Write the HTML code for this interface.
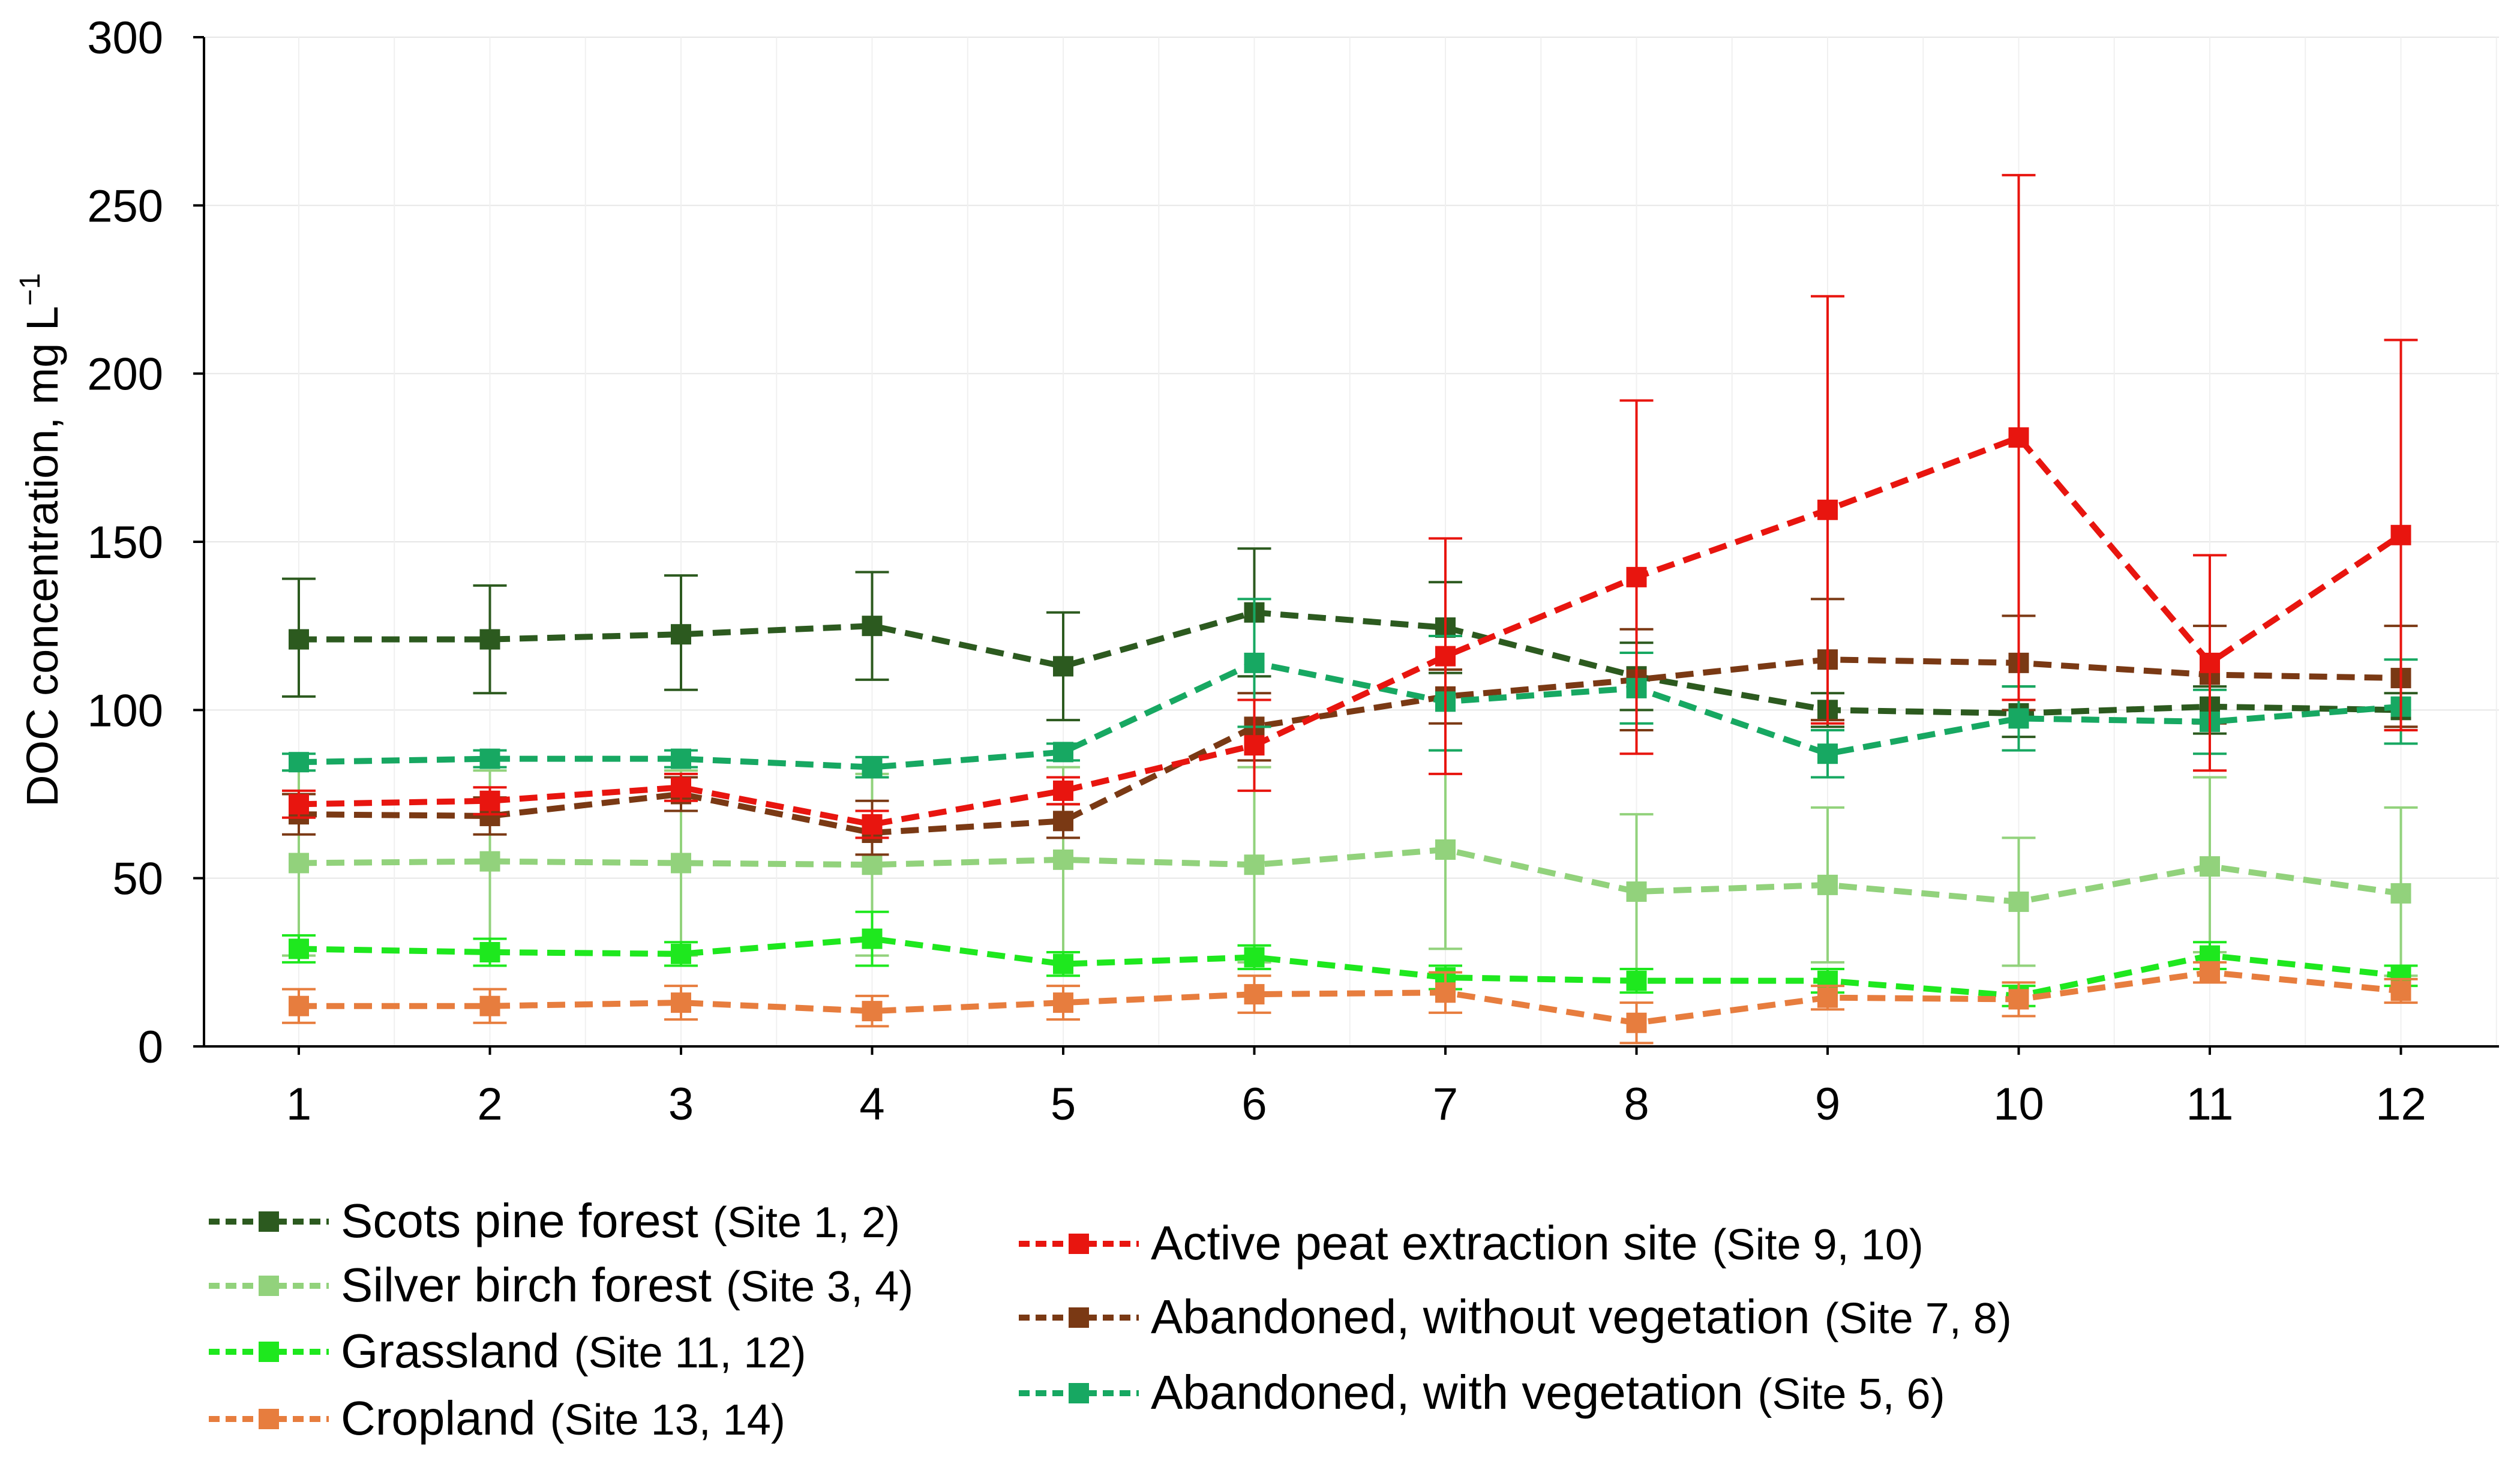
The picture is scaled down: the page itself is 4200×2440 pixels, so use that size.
<!DOCTYPE html>
<html><head><meta charset="utf-8"><style>
html,body{margin:0;padding:0;background:#fff}
svg{display:block;font-family:"Liberation Sans",Arial,sans-serif}
</style></head><body>
<svg id="chart" width="4200" height="2440" viewBox="0 0 4200 2440" xmlns="http://www.w3.org/2000/svg">
<g id="grid"></g>
<g id="axes"></g>
<g id="series"></g>
<text transform="translate(96,900) rotate(-90)" text-anchor="middle" font-size="74">DOC concentration, mg L<tspan dy="-30" font-size="48">−1</tspan></text>
<g id="legend"></g>
</svg>
<script>
const months = [1,2,3,4,5,6,7,8,9,10,11,12];
const yTicks = [0,50,100,150,200,250,300];
const seriesNames = ["Scots pine forest","Silver birch forest","Grassland","Cropland","Active peat extraction site","Abandoned, without vegetation","Abandoned, with vegetation"];
const seriesSites = ["(Site 1, 2)","(Site 3, 4)","(Site 11, 12)","(Site 13, 14)","(Site 9, 10)","(Site 7, 8)","(Site 5, 6)"];
const pineMean = [121,121,122.5,125,113,129,124.5,110,100,99,101,100];
const pineLo = [104,105,106,109,97,110,111,100,95,92,93,95];
const pineHi = [139,137,140,141,129,148,138,120,105,107,107,105];
const birchMean = [54.5,55,54.5,54,55.5,54,58.5,46,48,43,53.5,45.5];
const birchLo = [27,28,27,27,28,25,29,23,25,24,28,21];
const birchHi = [82,82,82,81,83,83,88,69,71,62,80,71];
const grassMean = [29,28,27.5,32,24.5,26.5,20.5,19.5,19.5,15,27,21];
const grassLo = [25,24,24,24,21,23,17,16,16,12,23,18];
const grassHi = [33,32,31,40,28,30,24,23,23,18,31,24];
const cropMean = [12,12,13,10.5,13,15.5,16,7,14.5,14,22,16.5];
const cropLo = [7,7,8,6,8,10,10,1,11,9,19,13];
const cropHi = [17,17,18,15,18,21,22,13,18,19,25,20];
const peatMean = [72,73,77,66,76,89.5,116,139.5,159.5,181,114,152];
const peatLo = [68,69,73,62,72,76,81,87,96,103,82,94];
const peatHi = [76,77,81,70,80,103,151,192,223,259,146,210];
const bareMean = [69,68.5,75,63.5,67,95,104,109,115,114,110.5,109.5];
const bareLo = [63,63,70,57,62,85,96,94,97,100,96,95];
const bareHi = [75,74,80,73,72,105,112,124,133,128,125,125];
const vegMean = [84.5,85.5,85.5,83,87.5,114,102.5,106.5,87,97.5,96.5,101];
const vegLo = [82,83,83,80,85,95,88,96,80,88,87,90];
const vegHi = [87,88,88,86,90,133,122,117,94,107,106,115];
const colors = ["#2c5a1f","#92d27c","#1ee81e","#e77d3e","#e8150f","#7a3914","#17a862"];

const NS="http://www.w3.org/2000/svg";
const X0=340,X1=4165,Y0=1744,Y300=62;
const xs=m=>498+(m-1)*318.5;
const ys=v=>Y0-(v/300)*(Y0-Y300);
function mk(tag,attrs,parent){const e=document.createElementNS(NS,tag);for(const k in attrs)e.setAttribute(k,attrs[k]);parent.appendChild(e);return e;}
const grid=document.getElementById('grid'),axes=document.getElementById('axes'),ser=document.getElementById('series'),leg=document.getElementById('legend');
yTicks.forEach(t=>{if(t>0){const l=mk('line',{x1:X0,x2:X1,y1:ys(t),y2:ys(t),stroke:'#e6e6e6','stroke-width':2},grid);}
 mk('line',{x1:X0-18,x2:X0,y1:ys(t),y2:ys(t),stroke:'#000','stroke-width':4},axes);
 const tx=mk('text',{x:272,y:ys(t)+27,'text-anchor':'end','font-size':76},axes);tx.textContent=t;
 });
months.forEach(m=>{[xs(m),xs(m)+159.25].forEach(x=>{if(x<X1){const l=mk('line',{x1:x,x2:x,y1:Y300,y2:Y0,stroke:'#f0f0f0','stroke-width':2},grid);}});
 mk('line',{x1:xs(m),x2:xs(m),y1:Y0,y2:Y0+14,stroke:'#000','stroke-width':4},axes);
 const tx=mk('text',{x:xs(m),y:1866,'text-anchor':'middle','font-size':76},axes);tx.textContent=m;
 });
const ax1=mk('line',{x1:X0,x2:X0,y1:Y300,y2:Y0,stroke:'#000','stroke-width':4},axes);

const ax2=mk('line',{x1:X0,x2:X1,y1:Y0,y2:Y0,stroke:'#000','stroke-width':4},axes);


const all=[[pineMean,pineLo,pineHi],[birchMean,birchLo,birchHi],[grassMean,grassLo,grassHi],[cropMean,cropLo,cropHi],[bareMean,bareLo,bareHi],[vegMean,vegLo,vegHi],[peatMean,peatLo,peatHi]];
const colIdx=[0,1,2,3,5,6,4];
all.forEach((s,i)=>{const c=colors[colIdx[i]];const g=mk('g',{},ser);
 
 months.forEach((m,j)=>{const x=xs(m);
  const e=mk('path',{d:`M${x},${ys(s[1][j])}V${ys(s[2][j])}M${x-28},${ys(s[1][j])}H${x+28}M${x-28},${ys(s[2][j])}H${x+28}`,stroke:c,'stroke-width':4,fill:'none'},g);
  });
 const ln=mk('polyline',{points:months.map((m,j)=>xs(m)+','+ys(s[0][j])).join(' '),stroke:c,'stroke-width':10,fill:'none','stroke-dasharray':'30 16'},g);
 
 months.forEach((m,j)=>{const r=mk('rect',{x:xs(m)-17,y:ys(s[0][j])-17,width:34,height:34,fill:c},g);
  });
});
const legPos=[[348,2036],[348,2143],[348,2253],[348,2365],[1698,2073],[1698,2196],[1698,2322]];
seriesNames.forEach((n,i)=>{const [x,y]=legPos[i];const c=colors[i];const g=mk('g',{},leg);
 
 mk('line',{x1:x,x2:x+200,y1:y,y2:y,stroke:c,'stroke-width':10,'stroke-dasharray':'18 10'},g);
 mk('rect',{x:x+83,y:y-17,width:34,height:34,fill:c},g);
 const t=mk('text',{x:x+220,y:y+26,'font-size':80},g);t.textContent=n;
 const sp=document.createElementNS(NS,'tspan');sp.setAttribute('font-size','72');sp.setAttribute('dx','24');sp.textContent=seriesSites[i];t.appendChild(sp);
});
</script>
</body></html>
